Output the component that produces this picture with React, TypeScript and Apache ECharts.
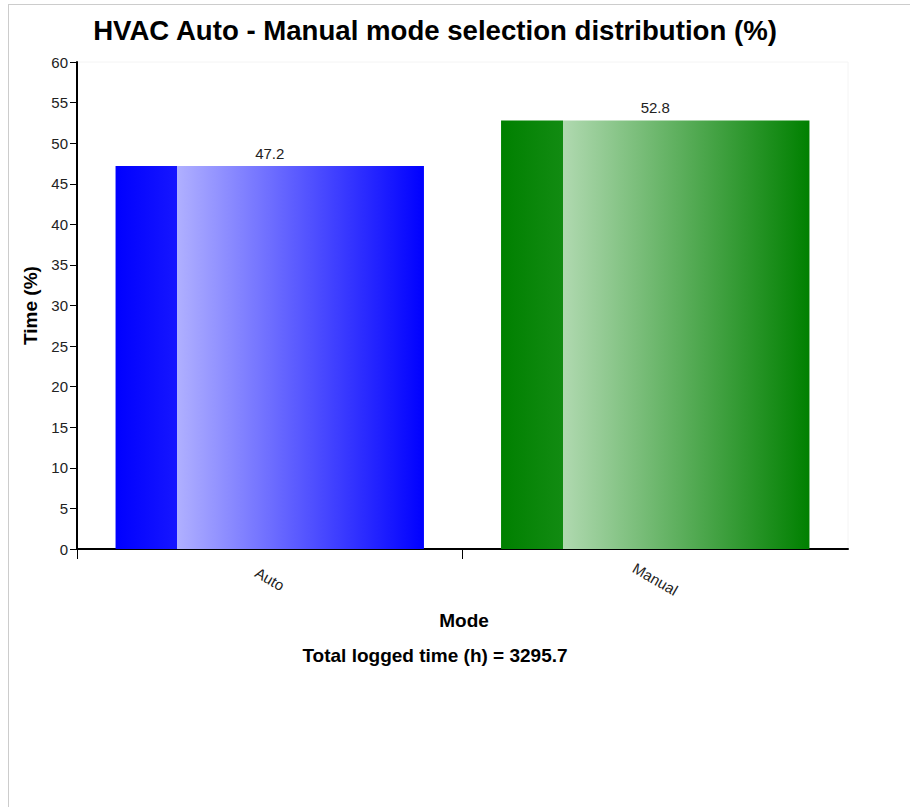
import React, { useEffect, useRef } from "react";
import * as echarts from "echarts";

const categories = ["Auto", "Manual"];
const timePercent = [47.2, 52.8];
const barBaseColors = ["#0000ff", "#008000"];
const barEdgeColors = ["#1616ff", "#128b12"];
const barLightColors = ["#b0b0ff", "#b0d9b0"];
const titleText = "HVAC Auto - Manual mode selection distribution (%)";
const yAxisTitle = "Time (%)";
const xAxisTitle = "Mode";
const footnote = "Total logged time (h) = 3295.7";
const yMin = 0;
const yMax = 60;
const yInterval = 5;
// band boundaries of the category axis (ticks drawn on all but the last)
const bandBoundaries = ["b0", "b1", "b2"];

const FONT = "'Liberation Sans', Arial, Helvetica, sans-serif";

export default function App() {
  const ref = useRef<HTMLDivElement>(null);
  useEffect(() => {
    if (!ref.current) return;
    const chart = echarts.init(ref.current, undefined, { renderer: "svg" });
    const data = timePercent.map((v, i) => ({
      value: v,
      itemStyle: {
        color: new echarts.graphic.LinearGradient(0, 0, 1, 0, [
          { offset: 0, color: barBaseColors[i] },
          { offset: 0.2, color: barEdgeColors[i] },
          { offset: 0.2, color: barLightColors[i] },
          { offset: 1, color: barBaseColors[i] },
        ]),
      },
    }));
    chart.setOption({
      animation: false,
      textStyle: { fontFamily: FONT },
      grid: {
        left: 77,
        right: 62,
        top: 62,
        bottom: 258,
        show: true,
        borderColor: "#f4f4f4",
        borderWidth: 1,
        backgroundColor: "transparent",
      },
      xAxis: [
        {
          type: "category",
          data: categories,
          axisLine: { lineStyle: { color: "#000", width: 2 } },
          axisTick: { show: false },
          axisLabel: {
            rotate: -30,
            align: "center",
            verticalAlign: "middle",
            margin: 30,
            fontSize: 15,
            color: "#222",
            fontFamily: FONT,
          },
          splitLine: { show: false },
        },
        {
          type: "category",
          position: "bottom",
          data: bandBoundaries,
          boundaryGap: false,
          axisLine: { show: false },
          axisLabel: { show: false },
          axisTick: {
            show: true,
            length: 10,
            lineStyle: { color: "#000", width: 1 },
            interval: (index: number) => index < bandBoundaries.length - 1,
          },
          splitLine: { show: false },
        },
      ],
      yAxis: {
        type: "value",
        min: yMin,
        max: yMax,
        interval: yInterval,
        name: yAxisTitle,
        nameLocation: "middle",
        nameRotate: 90,
        nameGap: 36,
        nameTextStyle: { fontSize: 19, fontWeight: "bold", color: "#000", fontFamily: FONT },
        axisLine: { show: true, lineStyle: { color: "#000", width: 2 } },
        axisTick: { show: true, length: 7, lineStyle: { color: "#000", width: 1 } },
        axisLabel: { fontSize: 15, color: "#222", margin: 9, fontFamily: FONT },
        splitLine: { show: false },
      },
      series: [
        {
          type: "bar",
          xAxisIndex: 0,
          data,
          barCategoryGap: "20%",
          label: {
            show: true,
            position: "top",
            distance: 5,
            fontSize: 15,
            color: "#222",
            fontFamily: FONT,
          },
        },
      ],
      graphic: [
        {
          type: "text",
          x: 435,
          y: 30,
          style: {
            text: titleText,
            font: `bold 27.6px ${FONT}`,
            fill: "#000",
            textAlign: "center",
            textVerticalAlign: "middle",
          },
        },
        {
          type: "text",
          x: 464,
          y: 620,
          style: {
            text: xAxisTitle,
            font: `bold 19px ${FONT}`,
            fill: "#000",
            textAlign: "center",
            textVerticalAlign: "middle",
          },
        },
        {
          type: "text",
          x: 435,
          y: 655,
          style: {
            text: footnote,
            font: `bold 19px ${FONT}`,
            fill: "#000",
            textAlign: "center",
            textVerticalAlign: "middle",
          },
        },
      ],
    });
    return () => chart.dispose();
  }, []);
  return (
    <div style={{ position: "fixed", left: 0, top: 0, width: 910, height: 807, background: "#fff" }}>
      <div
        style={{
          position: "absolute",
          left: 8,
          top: 4,
          width: 1000,
          height: 1000,
          border: "1px solid #cccccc",
          boxSizing: "border-box",
        }}
      />
      <div ref={ref} style={{ position: "absolute", left: 0, top: 0, width: 910, height: 807 }} />
    </div>
  );
}
